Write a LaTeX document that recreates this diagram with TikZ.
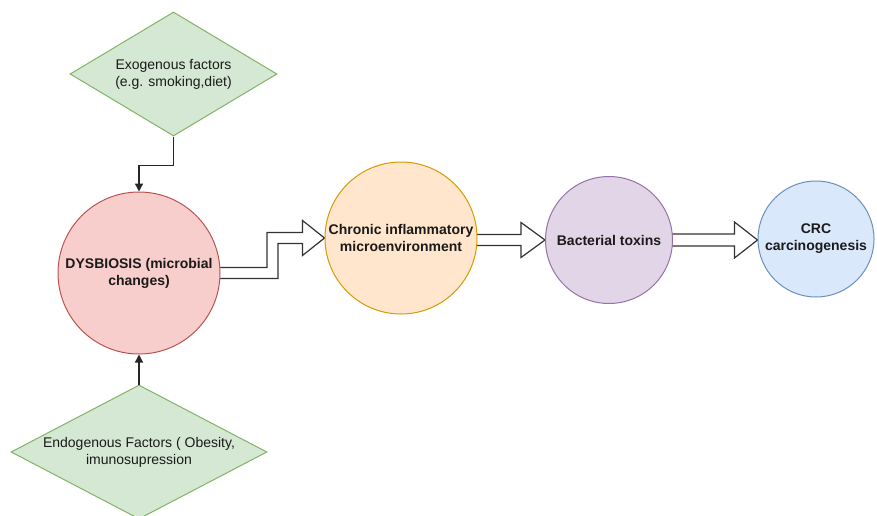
\documentclass[tikz,border=0pt]{standalone}
\usepackage{fontspec}
\setmainfont{Liberation Sans}
\usetikzlibrary{shapes.geometric,calc,arrows.meta,backgrounds}
\definecolor{txt}{HTML}{1A1A1A}
\definecolor{gfill}{HTML}{D5E8D4}\definecolor{gline}{HTML}{82B366}
\definecolor{rfill}{HTML}{F8CECC}\definecolor{rline}{HTML}{B85450}
\definecolor{ofill}{HTML}{FFE6CC}\definecolor{oline}{HTML}{D79B00}
\definecolor{pfill}{HTML}{E1D5E7}\definecolor{pline}{HTML}{9673A6}
\definecolor{bfill}{HTML}{DAE8FC}\definecolor{bline}{HTML}{6C8EBF}
\definecolor{arr}{HTML}{333333}
\tikzset{
  lbl/.style={font=\fontsize{14}{17}\selectfont, text=txt, align=center},
  circ/.style={lbl, circle, line width=1pt, inner sep=0pt, font=\fontsize{14}{17}\selectfont\bfseries},
  dia/.style={lbl, diamond, draw=gline, fill=gfill, line width=1pt, inner sep=0pt},
  conn/.style={draw=black!85, line width=1.3pt, -{Triangle[length=8pt,width=8pt]}},
  harrow/.style={draw=arr, fill=white, line width=1.2pt, line join=miter},
}
\begin{document}
\begin{tikzpicture}[x=1pt,y=-1pt]
\useasboundingbox (0,0) rectangle (877,516);
% diamonds
\node[dia, minimum width=207pt, minimum height=124pt, aspect=1.67] (ex) at (173.5,74) {Exogenous factors\\ (e.g. smoking,diet)};
\node[dia, minimum width=256pt, minimum height=134pt, aspect=1.91] (en) at (139,452) {Endogenous Factors ( Obesity,\\ imunosupression};
% circles
\node[circ, draw=rline, fill=rfill, minimum size=162pt] (dys) at (139,273) {DYSBIOSIS (microbial\\ changes)};
\node[circ, draw=oline, fill=ofill, minimum size=152pt] (chr) at (401,238) {Chronic inflammatory\\ microenvironment};
\node[circ, draw=pline, fill=pfill, minimum size=127pt] (bac) at (609,240) {Bacterial toxins};
\node[circ, draw=bline, fill=bfill, minimum size=116pt] (crc) at (816,239) {CRC\\ carcinogenesis};
% thin connectors
\draw[conn] (ex.south) -- ++(0,29) -| (dys.north);
\draw[conn] (en.north) -- (dys.south);
% hollow arrows
\begin{scope}[on background layer]
\coordinate (bend) at (272.5,0);
\coordinate (a1) at ($(dys.east)+(-4,0)$);
\coordinate (b1) at (chr.west);
\draw[harrow] ($(a1)+(0,-5.5)$) -- ($(bend |- a1)+(-5.5,-5.5)$) -- ($(bend |- b1)+(-5.5,-5.5)$)
  -- ($(b1)+(-22,-5.5)$) -- ($(b1)+(-22,-17.5)$) -- (b1) -- ($(b1)+(-22,17.5)$) -- ($(b1)+(-22,5.5)$)
  -- ($(bend |- b1)+(5.5,5.5)$) -- ($(bend |- a1)+(5.5,5.5)$) -- ($(a1)+(0,5.5)$) -- cycle;
\coordinate (a2) at ($(chr.east |- bac.west)+(-4,0)$);
\coordinate (b2) at (bac.west);
\draw[harrow] ($(a2)+(0,-5.5)$) -- ($(b2)+(-24,-5.5)$) -- ($(b2)+(-24,-17.5)$) -- (b2)
  -- ($(b2)+(-24,17.5)$) -- ($(b2)+(-24,5.5)$) -- ($(a2)+(0,5.5)$) -- cycle;
\coordinate (a3) at ($(bac.east)+(-4,0)$);
\coordinate (b3) at (crc.west |- bac.east);
\draw[harrow] ($(a3)+(0,-6)$) -- ($(b3)+(-23,-6)$) -- ($(b3)+(-23,-18)$) -- (b3)
  -- ($(b3)+(-23,18)$) -- ($(b3)+(-23,6)$) -- ($(a3)+(0,6)$) -- cycle;
\end{scope}
\end{tikzpicture}
\end{document}
